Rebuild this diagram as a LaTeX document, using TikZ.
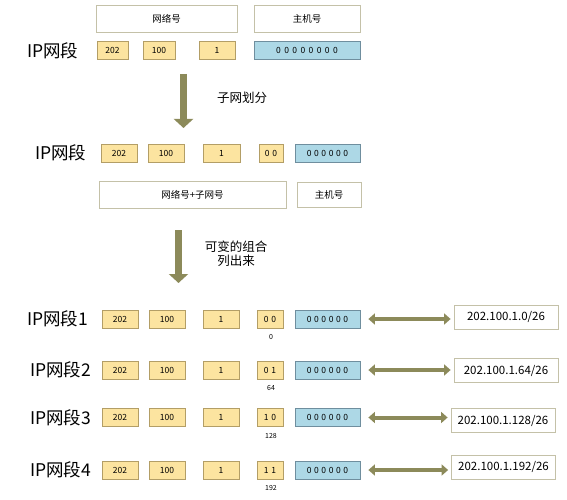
\documentclass[tikz,border=0pt]{standalone}
\usepackage{fontspec}
\setmainfont{Noto Sans CJK SC}
\usetikzlibrary{arrows.meta}
\definecolor{yfill}{HTML}{FCE4A0}
\definecolor{ydraw}{HTML}{B39E66}
\definecolor{bfill}{HTML}{ADD8E6}
\definecolor{bdraw}{HTML}{6F8E9E}
\definecolor{wdraw}{HTML}{C4C1A8}
\definecolor{olive}{HTML}{8C8A5A}
\newcommand\zsp{\hspace{2.6pt}}
\newcommand\zwp{\hspace{3.4pt}}
\begin{document}
\begin{tikzpicture}[x=1pt,y=-1pt,
  ybox/.style={draw=ydraw,fill=yfill,line width=0.8pt,inner sep=0pt,minimum height=18pt,font=\fontsize{8.5}{9}\selectfont},
  bbox/.style={draw=bdraw,fill=bfill,line width=0.8pt,inner sep=0pt,minimum height=18pt,font=\fontsize{8.5}{9}\selectfont},
  wbox/.style={draw=wdraw,fill=white,line width=0.8pt,inner sep=0pt,font=\fontsize{9.5}{11}\selectfont},
  lbox/.style={draw=wdraw,fill=white,line width=0.8pt,inner sep=0pt,minimum width=104pt,font=\fontsize{11.5}{13}\selectfont},
  iplab/.style={anchor=west,inner sep=0pt,font=\fontsize{17.5}{20}\selectfont},
  note/.style={inner sep=0pt,font=\fontsize{12.5}{15}\selectfont},
  small/.style={inner sep=0pt,font=\fontsize{7}{8}\selectfont},
  downarrow/.style={draw=olive,line width=7pt,-{Triangle[width=19pt,length=9pt]}},
  dblarrow/.style={draw=olive,line width=4pt,{Triangle[width=11pt,length=6.5pt]}-{Triangle[width=11pt,length=6.5pt]},shorten <=8pt,shorten >=3pt}]
\useasboundingbox (0,0) rectangle (567,500);
\fill[white] (0,0) rectangle (567,500);

% top section
\node[wbox,minimum width=141pt,minimum height=27pt] (net) at (166.5,18.5) {网络号};
\node[wbox,minimum width=106pt,minimum height=27pt] (host) at (307,18.5) {主机号};
\node[iplab] (ip0) at (27,51) {IP网段};
\node[ybox,minimum width=31pt] (t202) at (112.5,50.5) {202};
\node[ybox,minimum width=32pt] (t100) at (159,50.5) {100};
\node[ybox,minimum width=36pt] (t1) at (217,50.5) {1};
\node[bbox,minimum width=106pt] (tblue) at (307,50.5) {0\zwp0\zwp0\zwp0\zwp0\zwp0\zwp0\zwp0};

\coordinate (a1s) at (183.5,74);
\coordinate (a1e) at (183.5,128);
\draw[downarrow] (a1s) -- (a1e);
\node[note,anchor=west] (subdiv) at (217,98) {子网划分};

% second section
\node[iplab] (ip1) at (35,153) {IP网段};
\node[ybox,minimum width=36pt] (s202) at (119,153) {202};
\node[ybox,minimum width=36pt] (s100) at (166,153) {100};
\node[ybox,minimum width=37pt] (s1) at (221.5,153) {1};
\node[ybox,minimum width=24pt] (s00) at (271,153) {0\zsp0};
\node[bbox,minimum width=65pt] (sblue) at (327.5,153) {0\zsp0\zsp0\zsp0\zsp0\zsp0};
\node[wbox,minimum width=187pt,minimum height=27pt] (netsub) at (192.5,194.5) {网络号+子网号};
\node[wbox,minimum width=64pt,minimum height=25pt] (host2) at (329,194.5) {主机号};

\coordinate (a2s) at (178.5,230);
\coordinate (a2e) at (178.5,283);
\draw[downarrow] (a2s) -- (a2e);
\node[note,align=center] (combo) at (236,253.5) {可变的组合\\[-1pt]列出来};

% rows
\foreach \k/\y/\ix/\ba/\bb/\val/\lab/\lx/\ly in
  {1/319/27/0/0/0/202.100.1.0\slash 26/506/317,
   2/370/30/0/1/64/202.100.1.64\slash 26/506/370.5,
   3/417.5/30/1/0/128/202.100.1.128\slash 26/503/420.5,
   4/470/30/1/1/192/202.100.1.192\slash 26/503.5/467}{
  \node[iplab] (ipr\k) at (\ix,\y) {IP网段\k};
  \node[ybox,minimum width=36pt] (r202\k) at (120,\y) {202};
  \node[ybox,minimum width=36pt] (r100\k) at (167,\y) {100};
  \node[ybox,minimum width=36pt] (ro\k) at (221,\y) {1};
  \node[ybox,minimum width=26pt] (rbits\k) at (270,\y) {\ba\zsp\bb};
  \node[bbox,minimum width=65pt] (rblue\k) at (327.5,\y) {0\zsp0\zsp0\zsp0\zsp0\zsp0};
  \node[small] (val\k) at (271,\y+18) {\val};
  \node[lbox,minimum height=24pt] (net\k) at (\lx,\ly) {\lab};
  \draw[dblarrow] (rblue\k.east) -- (rblue\k.east -| net\k.west);
}
\end{tikzpicture}
\end{document}
